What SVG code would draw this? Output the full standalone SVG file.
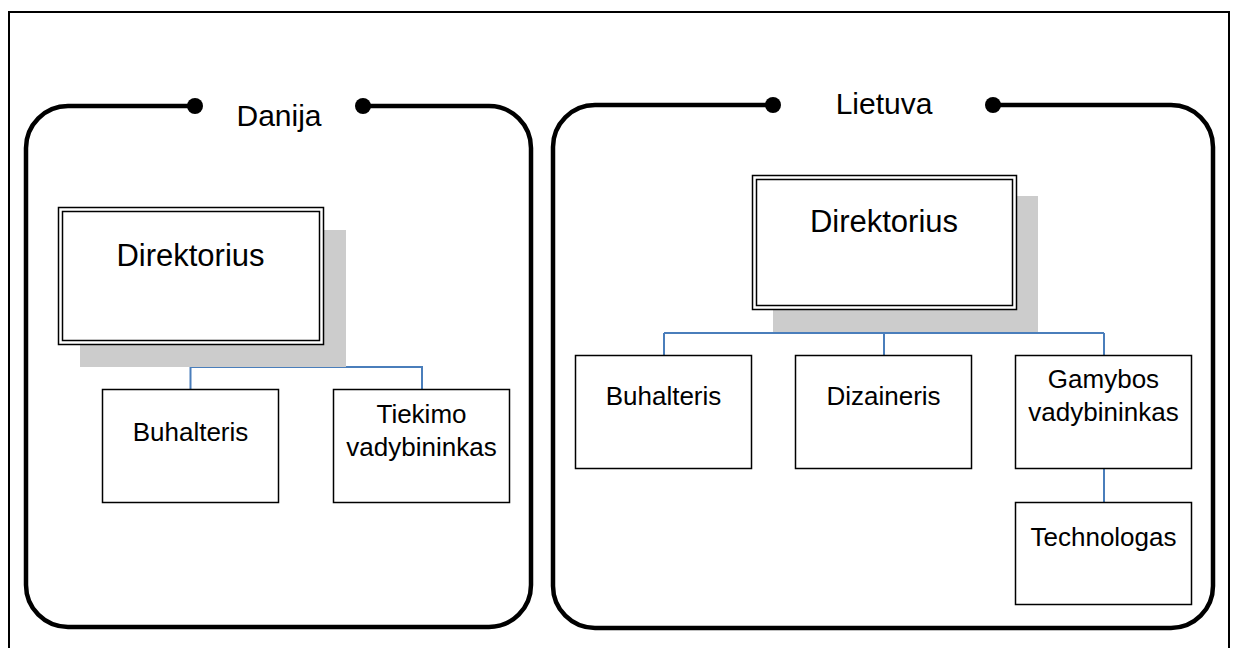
<svg xmlns="http://www.w3.org/2000/svg" width="1233" height="648" viewBox="0 0 1233 648">
  <style>
    .frame { fill: none; stroke: #000; stroke-width: 4.5; }
    .dot { fill: #000; }
    .title { font-family: "Liberation Sans", Arial, sans-serif; font-size: 30px; fill: #000; text-anchor: middle; }
    .shadow { fill: #CCCCCC; }
    .dbl { fill: #fff; stroke: #000; stroke-width: 1.5; }
    .dbl-in { fill: none; stroke: #000; stroke-width: 1.5; }
    .box { fill: #fff; stroke: #000; stroke-width: 1.5; }
    .lbl { font-family: "Liberation Sans", Arial, sans-serif; font-size: 26px; fill: #000; text-anchor: middle; }
    .big { font-family: "Liberation Sans", Arial, sans-serif; font-size: 31px; fill: #000; text-anchor: middle; }
    .link { fill: none; stroke: #4A7EBB; stroke-width: 2; }
  </style>

  <rect x="9" y="12" width="1220" height="660" fill="#fff" stroke="#000" stroke-width="2"/>

  <!-- Denmark group frame -->
  <g id="danija">
    <path class="frame" d="M195,106 H68 A42,42 0 0 0 26,148 V585 A42,42 0 0 0 68,627 H489 A42,42 0 0 0 531,585 V148 A42,42 0 0 0 489,106 H363"/>
    <circle class="dot" cx="195" cy="106" r="8"/>
    <circle class="dot" cx="363" cy="106" r="8"/>
    <text class="title" x="279" y="126">Danija</text>
  </g>

  <!-- Lithuania group frame -->
  <g id="lietuva">
    <path class="frame" d="M773,105 H595 A42,42 0 0 0 553,147 V586 A42,42 0 0 0 595,628 H1171 A42,42 0 0 0 1213,586 V147 A42,42 0 0 0 1171,105 H993"/>
    <circle class="dot" cx="773" cy="105" r="8"/>
    <circle class="dot" cx="993" cy="105" r="8"/>
    <text class="title" x="884" y="114">Lietuva</text>
  </g>

  <!-- connectors -->
  <g id="connectors">
    <path class="link" d="M190.5,345 V389 M190.5,367 H422 V389"/>
    <path class="link" d="M884,310 V355 M664,333 H1104 M664,333 V355 M1104,333 V355"/>
    <path class="link" d="M1104,468 V502"/>
  </g>

  <g id="dk-direktorius">
    <rect class="shadow" x="80" y="230" width="266" height="137"/>
    <rect class="dbl" x="58.5" y="207.5" width="265" height="137"/>
    <rect class="dbl-in" x="62.5" y="211.5" width="257" height="129"/>
    <text class="big" x="190.5" y="266">Direktorius</text>
  </g>

  <g id="dk-buhalteris">
    <rect class="box" x="102.5" y="389.5" width="176" height="113"/>
    <text class="lbl" x="190.5" y="441">Buhalteris</text>
  </g>

  <g id="dk-tiekimo">
    <rect class="box" x="333.5" y="389.5" width="176" height="113"/>
    <text class="lbl" x="421.5" y="423">Tiekimo</text>
    <text class="lbl" x="421.5" y="456">vadybininkas</text>
  </g>

  <g id="lt-direktorius">
    <rect class="shadow" x="773" y="196" width="265" height="136"/>
    <rect class="dbl" x="752.5" y="175.5" width="264" height="134"/>
    <rect class="dbl-in" x="756.5" y="179.5" width="256" height="126"/>
    <text class="big" x="884" y="232">Direktorius</text>
  </g>

  <g id="lt-buhalteris">
    <rect class="box" x="575.5" y="355.5" width="176" height="113"/>
    <text class="lbl" x="663.5" y="405">Buhalteris</text>
  </g>

  <g id="lt-dizaineris">
    <rect class="box" x="795.5" y="355.5" width="176" height="113"/>
    <text class="lbl" x="883.5" y="405">Dizaineris</text>
  </g>

  <g id="lt-gamybos">
    <rect class="box" x="1015.5" y="355.5" width="176" height="113"/>
    <text class="lbl" x="1103.5" y="388">Gamybos</text>
    <text class="lbl" x="1103.5" y="421">vadybininkas</text>
  </g>

  <g id="lt-technologas">
    <rect class="box" x="1015.5" y="502.5" width="176" height="102"/>
    <text class="lbl" x="1103.5" y="546">Technologas</text>
  </g>
</svg>
